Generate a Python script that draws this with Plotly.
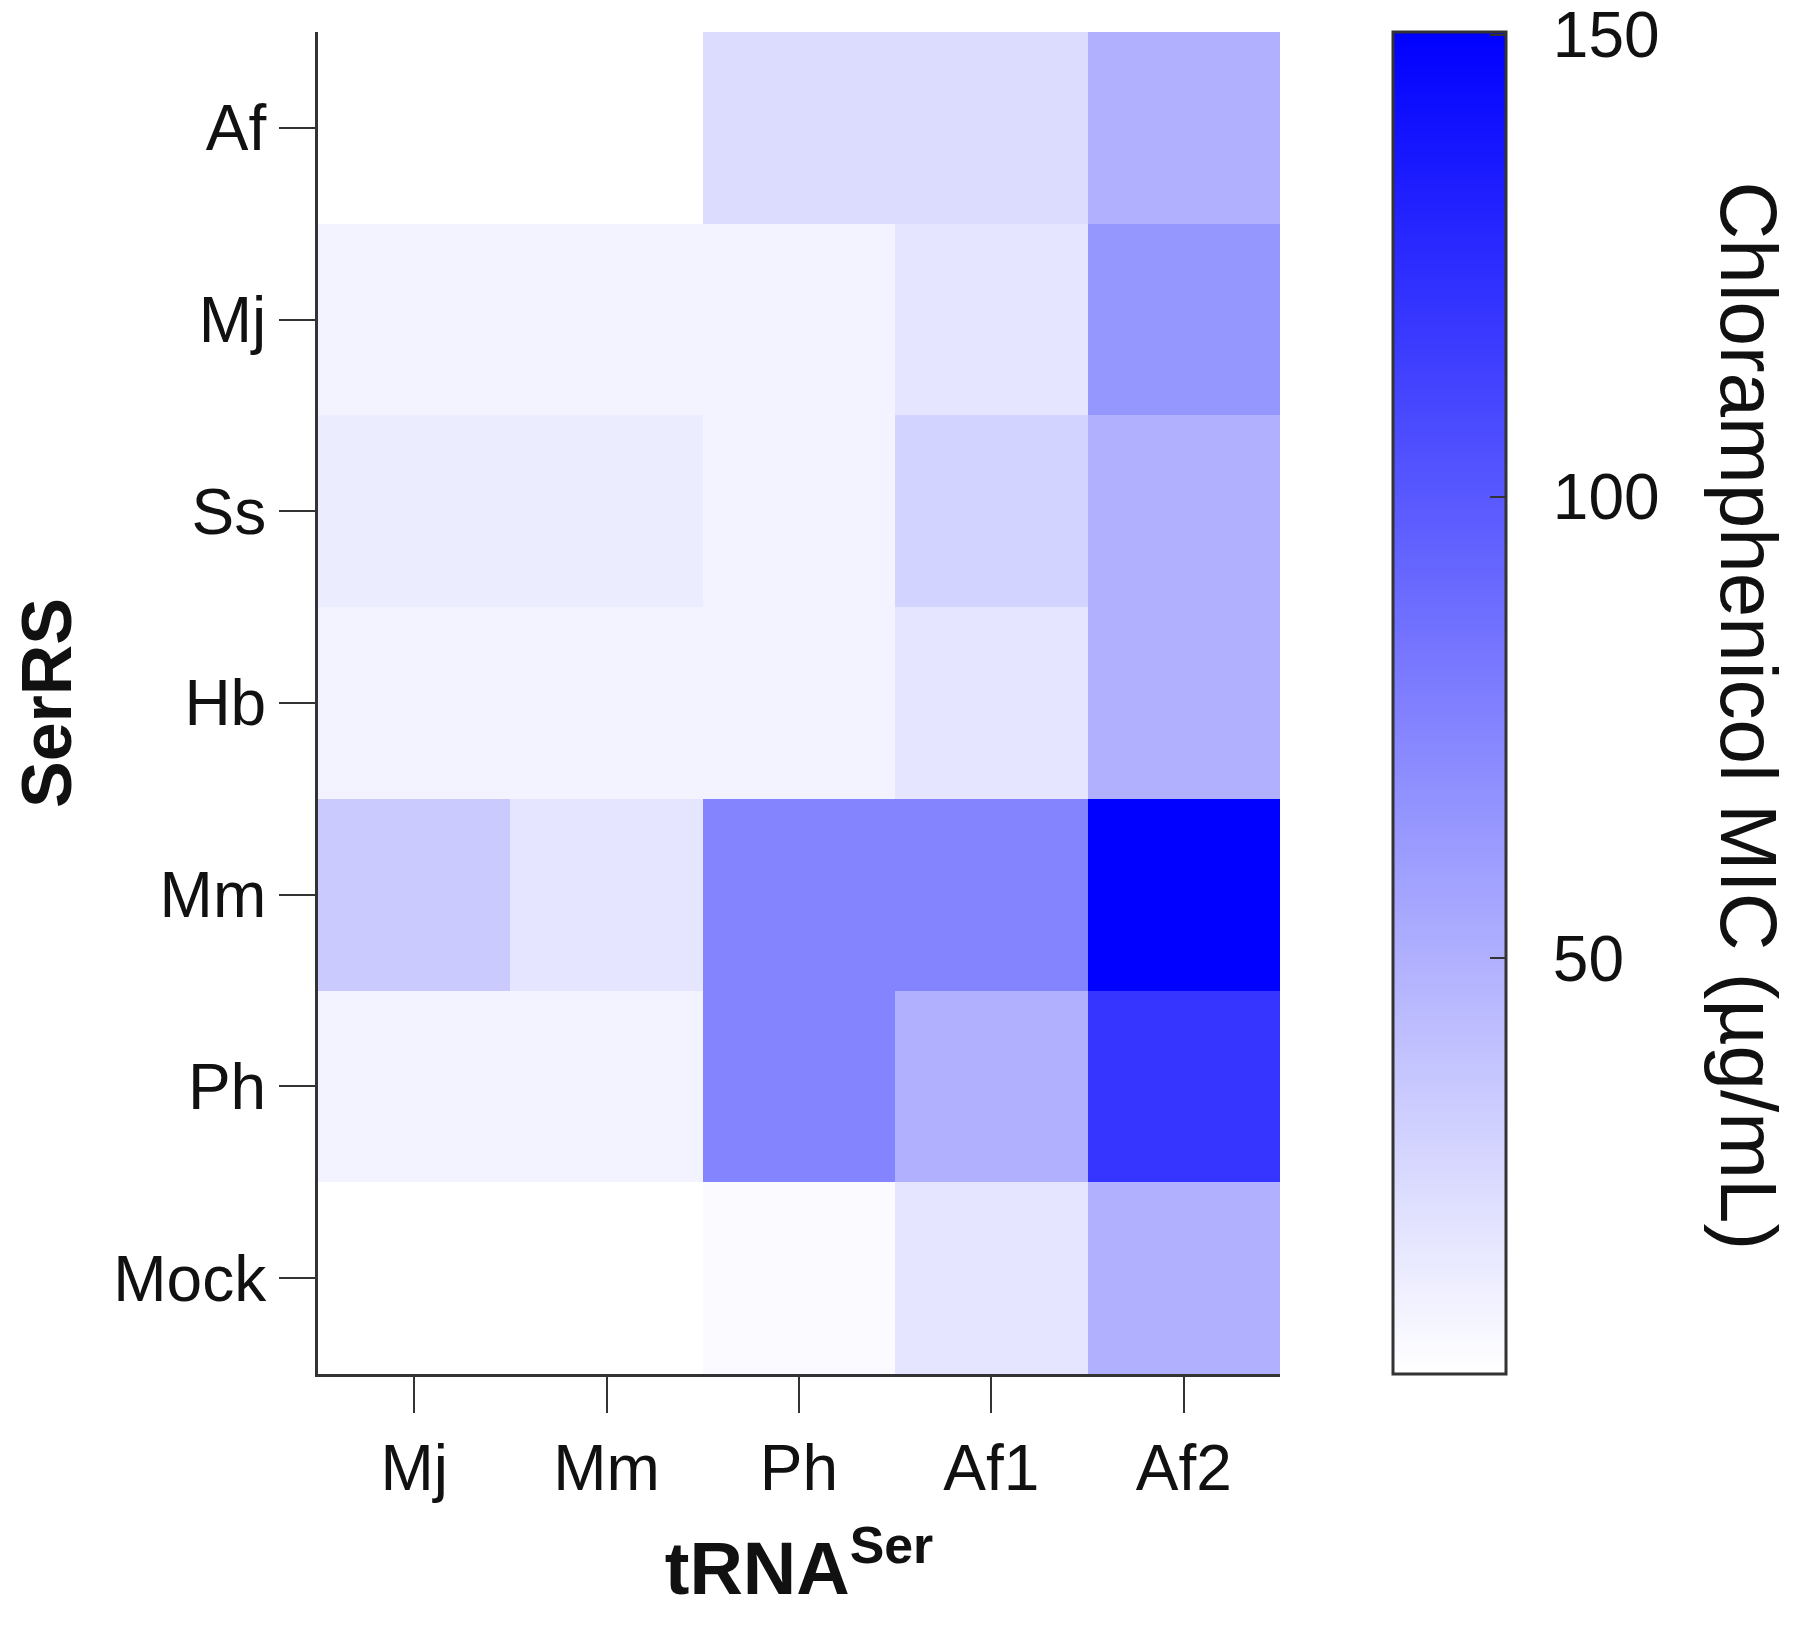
import plotly.graph_objects as go

# tRNA (columns) and SerRS (rows)
trna = ["Mj", "Mm", "Ph", "Af1", "Af2"]
serrs = ["Af", "Mj", "Ss", "Hb", "Mm", "Ph", "Mock"]

# Chloramphenicol MIC (ug/mL)
mic_af = [5, 5, 25, 25, 50]
mic_mj = [12, 12, 12, 20, 65]
mic_ss = [16, 16, 12, 30, 50]
mic_hb = [12, 12, 12, 20, 50]
mic_mm = [35, 20, 75, 75, 150]
mic_ph = [12, 12, 75, 50, 120]
mic_mock = [5, 5, 8, 20, 50]

cbar_ticks = [50, 100, 150]

z = [mic_af, mic_mj, mic_ss, mic_hb, mic_mm, mic_ph, mic_mock]

font = "Liberation Sans, Arial, sans-serif"

fig = go.Figure()
fig.add_trace(go.Heatmap(
    x=trna, y=serrs, z=z,
    zmin=5, zmax=150.3,
    colorscale=[[0, "rgb(255,255,255)"], [1, "rgb(0,0,255)"]],
    colorbar=dict(
        x=1.1175, xanchor="left", xpad=0,
        y=0.5, yanchor="middle", len=1, lenmode="fraction", ypad=0,
        thickness=113, thicknessmode="pixels",
        outlinewidth=3, outlinecolor="#333333",
        tickvals=cbar_ticks,
        ticktext=["\u2002" + str(t) for t in cbar_ticks],
        ticks="inside", ticklen=17, tickwidth=2,
        tickcolor="#333333", ticklabeloverflow="allow",
        tickfont=dict(family=font, size=64, color="#111111"),
    ),
))

fig.update_xaxes(
    showline=True, linewidth=3, linecolor="#333333", mirror=False,
    ticks="outside", ticklen=36, tickwidth=2, tickcolor="#333333",
    tickfont=dict(family=font, size=64, color="#111111"),
    showgrid=False, zeroline=False,
    title=dict(text="<b>tRNA<sup>Ser</sup></b>",
               font=dict(family=font, size=74, color="#111111"),
               standoff=40),
)
fig.update_yaxes(
    autorange="reversed",
    showline=True, linewidth=3, linecolor="#333333", mirror=False,
    ticks="outside", ticklen=36, tickwidth=2, tickcolor="#333333",
    tickfont=dict(family=font, size=64, color="#111111"),
    showgrid=False, zeroline=False,
    title=dict(text="<b>SerRS</b>",
               font=dict(family=font, size=70, color="#111111"),
               standoff=30),
)

fig.add_annotation(
    text="Chloramphenicol MIC (µg/mL)",
    xref="paper", yref="paper", x=1.4875, y=0.49,
    xanchor="center", yanchor="middle", textangle=90, showarrow=False,
    font=dict(family=font, size=80, color="#111111"),
)

fig.update_layout(
    width=1792, height=1627,
    margin=dict(l=310, r=520, t=24, b=261),
    plot_bgcolor="white", paper_bgcolor="white",
    showlegend=False,
)

fig.write_html("out.html")
